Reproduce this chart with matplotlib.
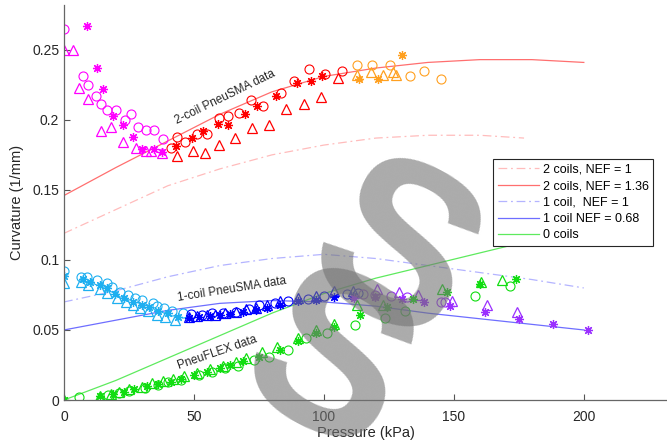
import matplotlib

matplotlib.use("Agg")
import matplotlib.pyplot as plt
from matplotlib.ticker import FuncFormatter

plt.rcParams["font.family"] = ["Liberation Sans", "DejaVu Sans"]

# model curves (pressure kPa -> curvature 1/mm)
p_2c_136 = [0, 20, 40, 60, 80, 100, 120, 140, 160, 180, 200]
k_2c_136 = [0.146, 0.166, 0.185, 0.204, 0.220, 0.231, 0.237, 0.241, 0.243, 0.243, 0.241]
p_2c_1 = [0, 20, 40, 60, 80, 100, 120, 140, 160, 177]
k_2c_1 = [0.119, 0.136, 0.153, 0.165, 0.175, 0.182, 0.187, 0.189, 0.189, 0.187]
p_1c_1 = [0, 20, 40, 60, 80, 100, 120, 140, 160, 180, 200]
k_1c_1 = [0.070, 0.078, 0.088, 0.096, 0.101, 0.104, 0.101, 0.096, 0.091, 0.086, 0.080]
p_1c_068 = [0, 20, 40, 60, 80, 100, 120, 140, 160, 180, 200]
k_1c_068 = [0.050, 0.057, 0.064, 0.069, 0.071, 0.070, 0.067, 0.062, 0.058, 0.054, 0.050]
p_0c = [0, 20, 40, 60, 80, 100, 120, 140, 160, 180, 200]
k_0c = [0.000, 0.014, 0.030, 0.046, 0.062, 0.076, 0.087, 0.096, 0.105, 0.114, 0.122]

# 2-coil data, low pressure (magenta)
mag_o_x = [0.1, 7.4, 9.4, 12.2, 14.1, 16.7, 19.9, 23.5, 25.8, 28.3, 31.5, 34.7, 38.2]
mag_o_y = [0.265, 0.231, 0.225, 0.217, 0.211, 0.207, 0.207, 0.200, 0.204, 0.195, 0.193, 0.193, 0.186]
mag_t_x = [0.1, 3.3, 5.8, 9.4, 14.1, 18.0, 22.6, 27.6, 31.4, 33.3, 37.8]
mag_t_y = [0.250, 0.250, 0.223, 0.215, 0.192, 0.195, 0.184, 0.180, 0.178, 0.178, 0.176]
mag_s_x = [9.0, 12.6, 14.9, 19.0, 22.6, 26.7, 30.1, 34.7, 37.8]
mag_s_y = [0.267, 0.237, 0.222, 0.203, 0.196, 0.188, 0.179, 0.179, 0.177]

# 2-coil data, mid pressure (red)
red_o_x = [41.2, 43.3, 46.5, 51.3, 55.1, 59.7, 63.0, 67.4, 71.9, 76.7, 83.3, 88.6, 94.3, 100.6, 106.8]
red_o_y = [0.180, 0.188, 0.184, 0.190, 0.190, 0.201, 0.203, 0.205, 0.214, 0.210, 0.219, 0.228, 0.236, 0.233, 0.235]
red_t_x = [43.3, 49.5, 54.2, 59.7, 65.8, 72.2, 78.8, 85.6, 92.3, 98.7, 105.3]
red_t_y = [0.174, 0.178, 0.176, 0.182, 0.187, 0.194, 0.196, 0.208, 0.211, 0.216, 0.230]
red_s_x = [43.1, 49.1, 53.6, 59.1, 63.2, 69.6, 74.4, 81.4, 89.5, 95.0, 99.3]
red_s_y = [0.181, 0.187, 0.192, 0.197, 0.196, 0.204, 0.210, 0.217, 0.226, 0.228, 0.231]

# 2-coil data, high pressure (orange)
ora_o_x = [112.6, 118.6, 125.4, 133.1, 138.6, 145.0]
ora_o_y = [0.239, 0.239, 0.239, 0.231, 0.235, 0.229]
ora_t_x = [112.6, 118.3, 122.6, 126.5, 127.8]
ora_t_y = [0.232, 0.234, 0.232, 0.234, 0.232]
ora_s_x = [113.6, 120.9, 129.9]
ora_s_y = [0.229, 0.229, 0.246]

# 1-coil data, low pressure (cyan)
cya_o_x = [0, 6.5, 9.0, 12.6, 16.4, 18.3, 21.5, 24.7, 27.3, 29.9, 34.1, 35.9, 38.5, 41.7, 45.6]
cya_o_y = [0.092, 0.0876, 0.0876, 0.0857, 0.0833, 0.0805, 0.0774, 0.075, 0.0726, 0.0714, 0.069, 0.0671, 0.0655, 0.0638, 0.0619]
cya_t_x = [0, 6.5, 9.3, 13.8, 16.4, 20.3, 23.8, 26.7, 29.2, 32.2, 35.6, 38.8, 42.7]
cya_t_y = [0.0835, 0.084, 0.082, 0.0795, 0.0765, 0.073, 0.070, 0.0677, 0.0658, 0.0633, 0.061, 0.059, 0.0573]
cya_s_x = [0, 7.2, 10.0, 13.8, 16.7, 19.6, 23.1, 26.7, 29.9, 32.8, 36.3, 40.1, 44.0]
cya_s_y = [0.0886, 0.0862, 0.0845, 0.0821, 0.0798, 0.0755, 0.0731, 0.0702, 0.0679, 0.0662, 0.0638, 0.0619, 0.0595]

# 1-coil data, mid pressure (blue)
blu_o_x = [49, 53, 57, 61, 66, 71, 75, 81, 86, 94, 100, 109, 113]
blu_o_y = [0.0615, 0.061, 0.062, 0.062, 0.063, 0.065, 0.068, 0.069, 0.0705, 0.072, 0.074, 0.076, 0.0765]
blu_t_x = [48, 51, 55, 58, 62, 66, 70, 74, 78, 83, 90, 97, 104, 111]
blu_t_y = [0.059, 0.060, 0.0605, 0.061, 0.062, 0.063, 0.065, 0.066, 0.068, 0.071, 0.0728, 0.0745, 0.0776, 0.078]
blu_s_x = [48, 52, 56, 60, 64, 69, 74, 78, 83, 90, 97, 104, 111]
blu_s_y = [0.0585, 0.059, 0.060, 0.061, 0.0615, 0.0625, 0.064, 0.0655, 0.068, 0.0707, 0.0715, 0.0733, 0.0745]

# 1-coil data, high pressure (purple)
pur_o_x = [114.9, 119.6, 125.8, 132.0, 145.0, 146.5]
pur_o_y = [0.0755, 0.075, 0.0743, 0.0738, 0.0702, 0.0700]
pur_t_x = [120.5, 129.0, 136.3, 149.1, 162.6, 174.1]
pur_t_y = [0.079, 0.077, 0.0752, 0.071, 0.0676, 0.0628]
pur_s_x = [111.5, 119.6, 129.9, 138.6, 148.5, 161.9, 175.0, 188.2, 201.7]
pur_s_y = [0.0731, 0.0733, 0.0721, 0.0702, 0.0671, 0.0631, 0.0579, 0.054, 0.050]

# 0-coil data (green)
grn_o_x = [5.8, 17, 21, 25, 31, 36, 40, 45, 52, 57, 62, 67, 73, 79, 86, 93, 101, 112, 123.5, 131.2, 158, 171.5]
grn_o_y = [0.002, 0.0035, 0.005, 0.0065, 0.0085, 0.0105, 0.0125, 0.0145, 0.0175, 0.020, 0.0225, 0.0245, 0.0285, 0.031, 0.036, 0.044, 0.0476, 0.0536, 0.0583, 0.0638, 0.0743, 0.0814]
grn_t_x = [0, 14, 18, 21, 25, 30, 34, 38, 42, 46, 51, 56, 61, 66, 70, 76, 82, 90, 97, 104, 112.6, 122.8, 145.3, 160.6, 168.7]
grn_t_y = [0.0, 0.003, 0.004, 0.0055, 0.0075, 0.0095, 0.012, 0.0135, 0.015, 0.017, 0.019, 0.022, 0.024, 0.027, 0.030, 0.034, 0.038, 0.0445, 0.050, 0.0545, 0.068, 0.068, 0.079, 0.0845, 0.0855]
grn_s_x = [0, 14, 19, 23, 27, 32, 36, 41, 45, 50, 55, 60, 64, 69, 75, 83, 90, 97, 104, 113.8, 124.1, 134.3, 147.4, 160.0, 173.8]
grn_s_y = [0.0, 0.0025, 0.0045, 0.006, 0.0075, 0.010, 0.0115, 0.013, 0.015, 0.018, 0.020, 0.023, 0.025, 0.028, 0.031, 0.036, 0.042, 0.0475, 0.052, 0.0607, 0.0667, 0.0719, 0.0774, 0.0829, 0.0864]

x_ticks = [0, 50, 100, 150, 200]
y_ticks = [0, 0.05, 0.1, 0.15, 0.2, 0.25]

AXIS_GREY = "#262626"
DASHDOT = (0, (7, 3, 1.5, 3))
STAR = (8, 2, 0)

fig = plt.figure(figsize=(6.67, 4.45), dpi=100)
ax = fig.add_axes([64 / 667, 45 / 445, 603 / 667, 395 / 445])

ax.plot(p_2c_1, k_2c_1, color="#FFBCBC", linestyle=DASHDOT, linewidth=0.9, label="2 coils, NEF = 1")
ax.plot(p_2c_136, k_2c_136, color="#FF6F6F", linewidth=0.9, label="2 coils, NEF = 1.36")
ax.plot(p_1c_1, k_1c_1, color="#B4B4FF", linestyle=DASHDOT, linewidth=0.9, label="1 coil,  NEF = 1")
ax.plot(p_1c_068, k_1c_068, color="#6E6EFF", linewidth=0.9, label="1 coil NEF = 0.68")
ax.plot(p_0c, k_0c, color="#5EEA5E", linewidth=0.9, label="0 coils")

groups = [
    ("#FF00FF", mag_o_x, mag_o_y, mag_t_x, mag_t_y, mag_s_x, mag_s_y),
    ("#FF0000", red_o_x, red_o_y, red_t_x, red_t_y, red_s_x, red_s_y),
    ("#FFA020", ora_o_x, ora_o_y, ora_t_x, ora_t_y, ora_s_x, ora_s_y),
    ("#1EAFF0", cya_o_x, cya_o_y, cya_t_x, cya_t_y, cya_s_x, cya_s_y),
    ("#0000FF", blu_o_x, blu_o_y, blu_t_x, blu_t_y, blu_s_x, blu_s_y),
    ("#9B30FF", pur_o_x, pur_o_y, pur_t_x, pur_t_y, pur_s_x, pur_s_y),
    ("#11DD11", grn_o_x, grn_o_y, grn_t_x, grn_t_y, grn_s_x, grn_s_y),
]

for color, ox, oy, tx, ty, sx, sy in groups:
    ax.plot(ox, oy, linestyle="none", marker="o", markersize=6.5,
            markerfacecolor="none", markeredgecolor=color, markeredgewidth=0.8)
    ax.plot(tx, ty, linestyle="none", marker="^", markersize=7,
            markerfacecolor="none", markeredgecolor=color, markeredgewidth=0.9)
    ax.plot(sx, sy, linestyle="none", marker=STAR, markersize=6.5,
            markeredgecolor=color, markeredgewidth=0.9)

# подписи групп данных
ax.text(62, 0.216, "2-coil PneuSMA data", rotation=26, fontsize=8.5,
        ha="center", va="center", color=AXIS_GREY)
ax.text(64.5, 0.079, "1-coil PneuSMA data", rotation=9, fontsize=8.5,
        ha="center", va="center", color=AXIS_GREY)
ax.text(59, 0.034, "PneuFLEX data", rotation=19, fontsize=8.5,
        ha="center", va="center", color=AXIS_GREY)

ax.set_xlim(0, 232)
ax.set_ylim(0, 0.282)
ax.set_xticks(x_ticks)
ax.set_yticks(y_ticks)
ax.yaxis.set_major_formatter(FuncFormatter(lambda v, _: f"{v:g}"))
ax.tick_params(direction="in", length=4, width=0.8, colors="#555555",
               labelcolor=AXIS_GREY, labelsize=10)
ax.tick_params(axis="x", pad=7)
ax.spines["top"].set_visible(False)
ax.spines["right"].set_visible(False)
for side in ["left", "bottom"]:
    ax.spines[side].set_color("#666666")
    ax.spines[side].set_linewidth(0.9)

ax.set_xlabel("Pressure (kPa)", fontsize=10.5, color=AXIS_GREY, labelpad=2)
ax.set_ylabel("Curvature (1/mm)", fontsize=10.5, color=AXIS_GREY, labelpad=6)

legend = ax.legend(loc="upper right", bbox_to_anchor=(0.977, 0.609), fontsize=9,
                   handlelength=3.3, handletextpad=0.3, borderpad=0.35,
                   labelspacing=0.35, fancybox=False, framealpha=1,
                   borderaxespad=0)
legend.get_frame().set_edgecolor("#262626")
legend.get_frame().set_linewidth(0.8)

# водяной знак поверх графика
fig.text(392 / 667, 1 - 262 / 445, "S", fontsize=165, fontweight="bold",
         rotation=-28, ha="center", va="center", color="0.45", alpha=0.6,
         zorder=10)
fig.text(325 / 667, 1 - 372 / 445, "S", fontsize=165, fontweight="bold",
         rotation=-28, ha="center", va="center", color="0.45", alpha=0.6,
         zorder=10)

fig.savefig("out.png", dpi=100)
plt.close(fig)
